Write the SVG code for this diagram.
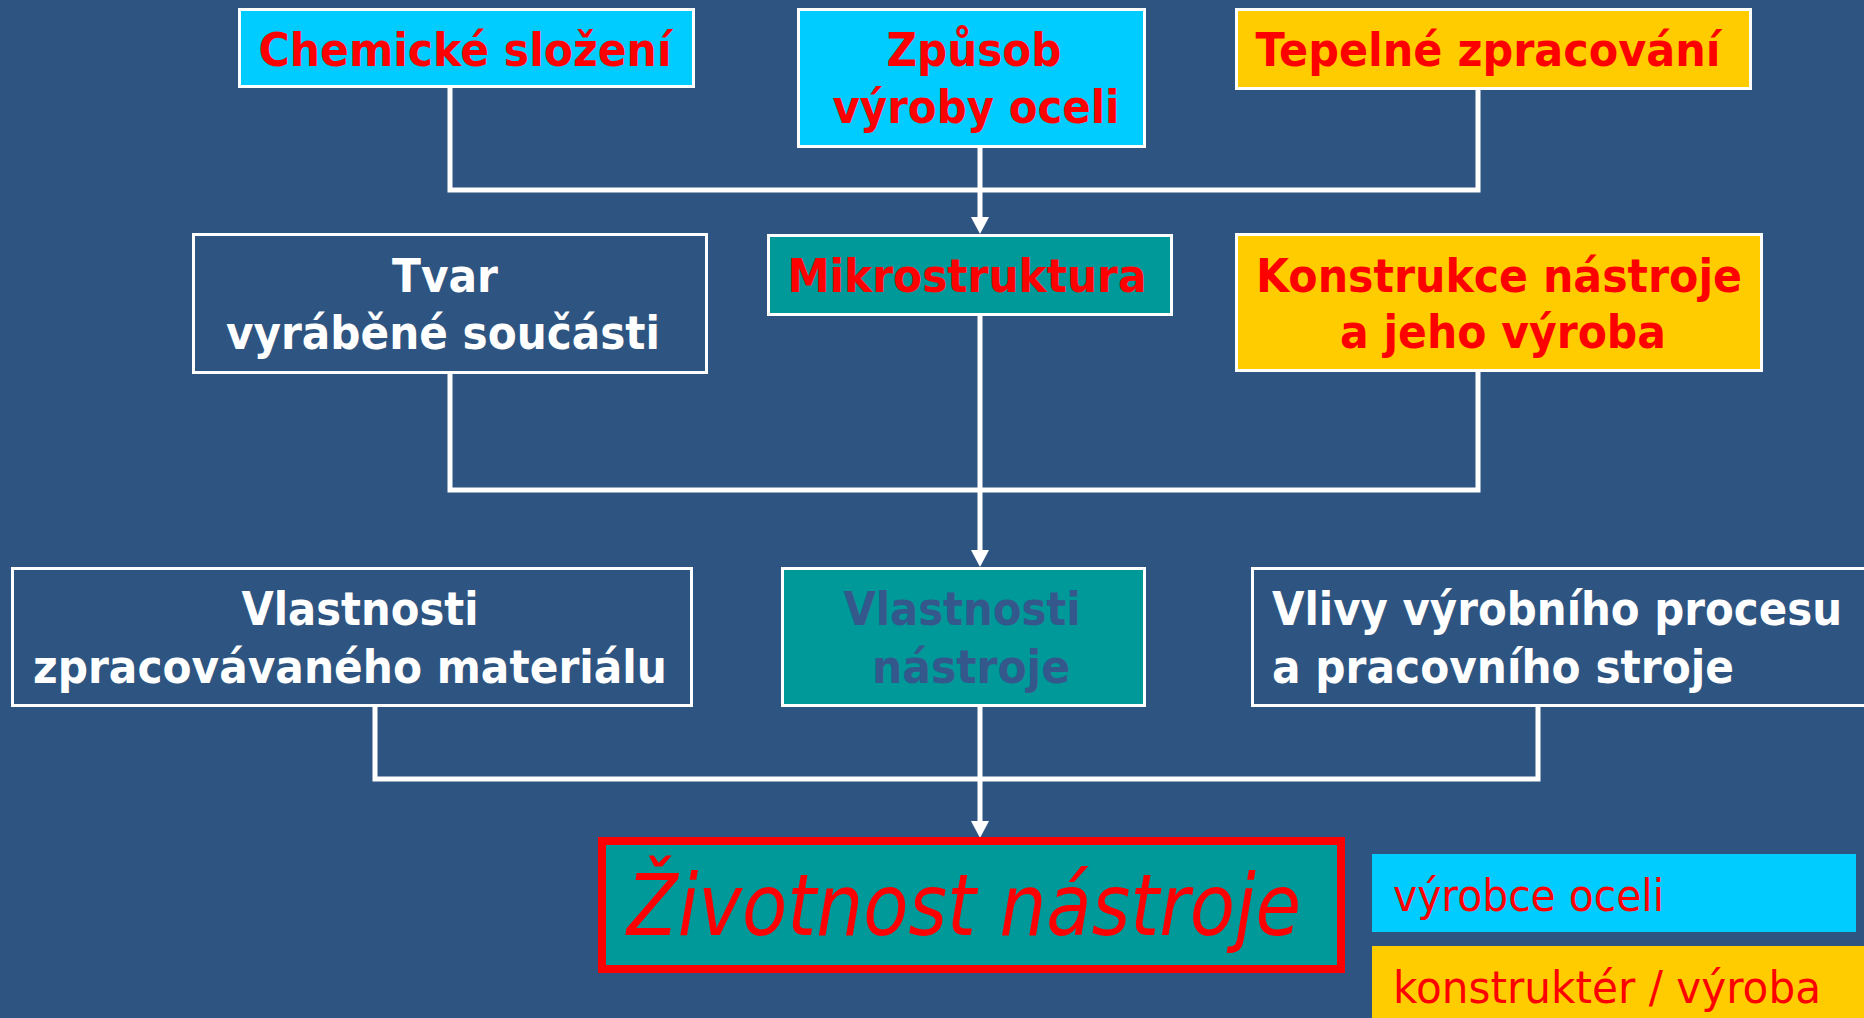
<svg xmlns="http://www.w3.org/2000/svg" width="1864" height="1018" viewBox="0 0 1864 1018">
<defs>
<style>
.bg{fill:#2E5581}
.box{stroke:#FFFFFF;stroke-width:3}
.cyan{fill:#00CCFF}
.yellow{fill:#FFCC00}
.teal{fill:#009999}
.dark{fill:#2E5581}
.t{font-family:"DejaVu Sans","Liberation Sans",sans-serif;font-weight:bold;font-size:46px;text-anchor:middle}
.red{fill:#FF0000}
.white{fill:#FFFFFF}
.navy{fill:#35588C}
.conn{fill:none;stroke:#FFFFFF;stroke-width:5}
.leg{font-family:"DejaVu Sans","Liberation Sans",sans-serif;font-size:44px;fill:#FF0000}
</style>
<marker id="arr" markerUnits="userSpaceOnUse" viewBox="0 0 17 18" markerWidth="17" markerHeight="18" refX="7" refY="9" orient="auto">
<path d="M0 0 L17 9 L0 18 Z" fill="#FFFFFF"/>
</marker>
</defs>
<rect class="bg" x="0" y="0" width="1864" height="1018"/>

<g id="connectors">
<path class="conn" d="M450 88 V190 H1478 V90"/>
<path class="conn" d="M980 148 V224" marker-end="url(#arr)"/>
<path class="conn" d="M450 374 V490 H1478 V372"/>
<path class="conn" d="M980 316 V557" marker-end="url(#arr)"/>
<path class="conn" d="M375 707 V779 H1538 V707"/>
<path class="conn" d="M980 707 V828" marker-end="url(#arr)"/>
</g>

<g id="chemicke">
<rect class="box cyan" x="239.5" y="9.5" width="454" height="77"/>
<text class="t red" x="465" y="66" textLength="413" lengthAdjust="spacingAndGlyphs">Chemické složení</text>
</g>

<g id="zpusob">
<rect class="box cyan" x="798.5" y="9.5" width="346" height="137"/>
<text class="t red" x="974" y="66" textLength="175" lengthAdjust="spacingAndGlyphs">Způsob</text>
<text class="t red" x="976" y="123" textLength="287" lengthAdjust="spacingAndGlyphs">výroby oceli</text>
</g>

<g id="tepelne">
<rect class="box yellow" x="1236.5" y="9.5" width="514" height="79"/>
<text class="t red" x="1488" y="66" textLength="465" lengthAdjust="spacingAndGlyphs">Tepelné zpracování</text>
</g>

<g id="tvar">
<rect class="box dark" x="193.5" y="234.5" width="513" height="138"/>
<text class="t white" x="445" y="292" textLength="106" lengthAdjust="spacingAndGlyphs">Tvar</text>
<text class="t white" x="443" y="349" textLength="434" lengthAdjust="spacingAndGlyphs">vyráběné součásti</text>
</g>

<g id="mikrostruktura">
<rect class="box teal" x="768.5" y="235.5" width="403" height="79"/>
<text class="t red" x="967" y="292" textLength="359" lengthAdjust="spacingAndGlyphs">Mikrostruktura</text>
</g>

<g id="konstrukce">
<rect class="box yellow" x="1236.5" y="234.5" width="525" height="136"/>
<text class="t red" x="1499" y="292" textLength="486" lengthAdjust="spacingAndGlyphs">Konstrukce nástroje</text>
<text class="t red" x="1503" y="348" textLength="326" lengthAdjust="spacingAndGlyphs">a jeho výroba</text>
</g>

<g id="vlastnosti-materialu">
<rect class="box dark" x="12.5" y="568.5" width="679" height="137"/>
<text class="t white" x="360" y="625" textLength="237" lengthAdjust="spacingAndGlyphs">Vlastnosti</text>
<text class="t white" x="350" y="683" textLength="634" lengthAdjust="spacingAndGlyphs">zpracovávaného materiálu</text>
</g>

<g id="vlastnosti-nastroje">
<rect class="box teal" x="782.5" y="568.5" width="362" height="137"/>
<text class="t navy" x="962" y="625" textLength="237" lengthAdjust="spacingAndGlyphs">Vlastnosti</text>
<text class="t navy" x="971" y="683" textLength="198" lengthAdjust="spacingAndGlyphs">nástroje</text>
</g>

<g id="vlivy">
<path d="M1866 568.5 H1252.5 V705.5 H1866" fill="#2E5581" stroke="#FFFFFF" stroke-width="3"/>
<text class="t white" x="1272" y="625" style="text-anchor:start" textLength="570" lengthAdjust="spacingAndGlyphs">Vlivy výrobního procesu</text>
<text class="t white" x="1272" y="683" style="text-anchor:start" textLength="462" lengthAdjust="spacingAndGlyphs">a pracovního stroje</text>
</g>

<g id="zivotnost">
<rect x="602" y="841" width="739" height="128" fill="#009999" stroke="#FF0000" stroke-width="8"/>
<text x="627" y="935" font-family="DejaVu Sans, Liberation Sans, sans-serif" font-style="oblique" font-size="86" fill="#FF0000" textLength="674" lengthAdjust="spacingAndGlyphs">Životnost nástroje</text>
</g>

<g id="legend-vyrobce">
<rect class="cyan" x="1372" y="854" width="484" height="78"/>
<text class="leg" x="1393" y="911" textLength="271" lengthAdjust="spacingAndGlyphs">výrobce oceli</text>
</g>

<g id="legend-konstrukter">
<rect class="yellow" x="1372" y="946" width="492" height="72"/>
<text class="leg" x="1393" y="1003" textLength="428" lengthAdjust="spacingAndGlyphs">konstruktér / výroba</text>
</g>
</svg>
